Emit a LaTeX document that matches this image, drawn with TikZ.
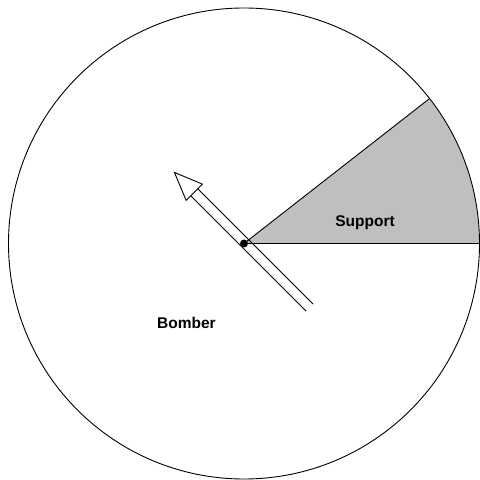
\documentclass[tikz,border=0pt]{standalone}
\usepackage{fontspec}
\setmainfont{Liberation Sans}
\tikzset{
  outline/.style={draw=black, line width=0.9pt},
  lbl/.style={font=\bfseries\fontsize{15.5}{18}\selectfont, inner sep=0pt}
}
\begin{document}
\begin{tikzpicture}[x=1pt,y=1pt]
\useasboundingbox (0,0) rectangle (480,480);
\coordinate (C) at (244,236.5);
% sector
\fill[gray!50] (C) -- ++(0:235.5) arc (0:38:235.5) -- cycle;
\draw[outline] (C) -- ++(0:235.5);
\draw[outline] (C) -- ++(38:235.5);
% circle
\draw[outline] (C) circle (235.5);
% arrow
\coordinate (T) at (309.5,172.5);
\begin{scope}[shift={(T)}, rotate=135]
  \draw[outline] (0,5) -- (163,5);
  \draw[outline] (0,-5) -- (163,-5);
  \draw[outline, fill=white, line join=miter] (163,11.5) -- (191,0) -- (163,-11.5) -- cycle;
\end{scope}
\fill (C) circle (4);
\node[lbl] (support) at (365,257) {Support};
\node[lbl] (bomber) at (186.5,157) {Bomber};
\end{tikzpicture}
\end{document}
